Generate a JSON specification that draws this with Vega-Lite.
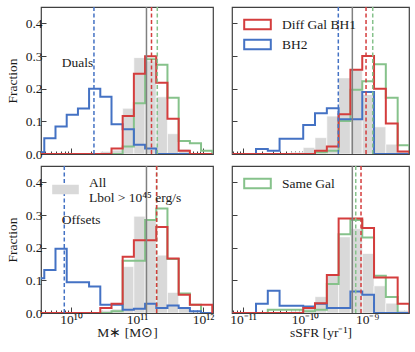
{
  "$schema": "https://vega.github.io/schema/vega-lite/v6.json",
  "padding": {"left": 4, "top": 5, "right": 4, "bottom": 4},
  "background": "white",
  "config": {
    "font": "Liberation Serif",
    "view": {"stroke": "#404040", "strokeWidth": 1.2},
    "axis": {"domain": false, "grid": false, "tickColor": "#404040", "tickWidth": 1, "labelFontSize": 13.5, "titleFontSize": 13.5, "labelColor": "#1a1a1a", "titleColor": "#1a1a1a", "titleFontWeight": "normal", "labelFont": "Liberation Serif", "titleFont": "Liberation Serif", "labelOverlap": false},
    "legend": {"labelFont": "Liberation Serif", "labelFontSize": 13.5, "labelColor": "#1a1a1a"}
  },
  "datasets": {
    "md": [
      {"x": 2.667e9, "x2": 3.936e9, "Diff Gal BH1": 0, "BH2": 0.005, "Same Gal": 0, "All": 0},
      {"x": 3.936e9, "x2": 5.821e9, "Diff Gal BH1": 0, "BH2": 0.048, "Same Gal": 0, "All": 0},
      {"x": 5.821e9, "x2": 8.61e9, "Diff Gal BH1": 0, "BH2": 0.084, "Same Gal": 0, "All": 0},
      {"x": 8.61e9, "x2": 1.274e10, "Diff Gal BH1": 0, "BH2": 0.12, "Same Gal": 0, "All": 0},
      {"x": 1.274e10, "x2": 1.879e10, "Diff Gal BH1": 0, "BH2": 0.139, "Same Gal": 0, "All": 0},
      {"x": 1.879e10, "x2": 2.78e10, "Diff Gal BH1": 0, "BH2": 0.2, "Same Gal": 0, "All": 0},
      {"x": 2.78e10, "x2": 4.111e10, "Diff Gal BH1": 0, "BH2": 0.175, "Same Gal": 0, "All": 0.008},
      {"x": 4.111e10, "x2": 6.067e10, "Diff Gal BH1": 0.017, "BH2": 0.091, "Same Gal": 0, "All": 0.012},
      {"x": 6.067e10, "x2": 8.974e10, "Diff Gal BH1": 0.116, "BH2": 0.076, "Same Gal": 0.023, "All": 0.14},
      {"x": 8.974e10, "x2": 1.327e11, "Diff Gal BH1": 0.246, "BH2": 0.028, "Same Gal": 0.155, "All": 0.295},
      {"x": 1.327e11, "x2": 1.959e11, "Diff Gal BH1": 0.299, "BH2": 0.017, "Same Gal": 0.29, "All": 0.285},
      {"x": 1.959e11, "x2": 2.897e11, "Diff Gal BH1": 0.218, "BH2": 0, "Same Gal": 0.273, "All": 0.175},
      {"x": 2.897e11, "x2": 4.285e11, "Diff Gal BH1": 0.108, "BH2": 0, "Same Gal": 0.172, "All": 0.062},
      {"x": 4.285e11, "x2": 6.339e11, "Diff Gal BH1": 0.01, "BH2": 0, "Same Gal": 0.04, "All": 0.015},
      {"x": 6.339e11, "x2": 9.354e11, "Diff Gal BH1": 0, "BH2": 0, "Same Gal": 0.033, "All": 0},
      {"x": 9.354e11, "x2": 1.384e12, "Diff Gal BH1": 0, "BH2": 0, "Same Gal": 0.01, "All": 0},
      {"x": 1.384e12, "x2": 2.046e12, "Diff Gal BH1": 0, "BH2": 0, "Same Gal": 0, "All": 0}
    ],
    "mo": [
      {"x": 2.667e9, "x2": 3.936e9, "Diff Gal BH1": 0, "BH2": 0.106, "Same Gal": 0, "All": 0},
      {"x": 3.936e9, "x2": 5.821e9, "Diff Gal BH1": 0, "BH2": 0.132, "Same Gal": 0, "All": 0},
      {"x": 5.821e9, "x2": 8.61e9, "Diff Gal BH1": 0, "BH2": 0.197, "Same Gal": 0, "All": 0},
      {"x": 8.61e9, "x2": 1.274e10, "Diff Gal BH1": 0, "BH2": 0.094, "Same Gal": 0, "All": 0},
      {"x": 1.274e10, "x2": 1.879e10, "Diff Gal BH1": 0, "BH2": 0.094, "Same Gal": 0, "All": 0},
      {"x": 1.879e10, "x2": 2.78e10, "Diff Gal BH1": 0, "BH2": 0.081, "Same Gal": 0, "All": 0},
      {"x": 2.78e10, "x2": 4.111e10, "Diff Gal BH1": 0.015, "BH2": 0.025, "Same Gal": 0, "All": 0.008},
      {"x": 4.111e10, "x2": 6.067e10, "Diff Gal BH1": 0.028, "BH2": 0.025, "Same Gal": 0.005, "All": 0.012},
      {"x": 6.067e10, "x2": 8.974e10, "Diff Gal BH1": 0.172, "BH2": 0.01, "Same Gal": 0.16, "All": 0.142},
      {"x": 8.974e10, "x2": 1.327e11, "Diff Gal BH1": 0.223, "BH2": 0.013, "Same Gal": 0.16, "All": 0.296},
      {"x": 1.327e11, "x2": 1.959e11, "Diff Gal BH1": 0.223, "BH2": 0.028, "Same Gal": 0.285, "All": 0.285},
      {"x": 1.959e11, "x2": 2.897e11, "Diff Gal BH1": 0.263, "BH2": 0.015, "Same Gal": 0.32, "All": 0.177},
      {"x": 2.897e11, "x2": 4.285e11, "Diff Gal BH1": 0.167, "BH2": 0.023, "Same Gal": 0.165, "All": 0.063},
      {"x": 4.285e11, "x2": 6.339e11, "Diff Gal BH1": 0.056, "BH2": 0.015, "Same Gal": 0.06, "All": 0.015},
      {"x": 6.339e11, "x2": 9.354e11, "Diff Gal BH1": 0.025, "BH2": 0.005, "Same Gal": 0.025, "All": 0},
      {"x": 9.354e11, "x2": 1.384e12, "Diff Gal BH1": 0.025, "BH2": 0, "Same Gal": 0, "All": 0},
      {"x": 1.384e12, "x2": 2.046e12, "Diff Gal BH1": 0, "BH2": 0, "Same Gal": 0, "All": 0}
    ],
    "sd": [
      {"x": 6.745e-12, "x2": 1.045e-11, "Diff Gal BH1": 0, "BH2": 0, "Same Gal": 0, "All": 0},
      {"x": 1.045e-11, "x2": 1.622e-11, "Diff Gal BH1": 0, "BH2": 0, "Same Gal": 0, "All": 0},
      {"x": 1.622e-11, "x2": 2.512e-11, "Diff Gal BH1": 0, "BH2": 0.015, "Same Gal": 0, "All": 0},
      {"x": 2.512e-11, "x2": 3.89e-11, "Diff Gal BH1": 0, "BH2": 0.01, "Same Gal": 0, "All": 0},
      {"x": 3.89e-11, "x2": 6.039e-11, "Diff Gal BH1": 0, "BH2": 0.047, "Same Gal": 0, "All": 0},
      {"x": 6.039e-11, "x2": 9.354e-11, "Diff Gal BH1": 0, "BH2": 0.047, "Same Gal": 0, "All": 0.005},
      {"x": 9.354e-11, "x2": 1.449e-10, "Diff Gal BH1": 0, "BH2": 0.089, "Same Gal": 0, "All": 0.02},
      {"x": 1.449e-10, "x2": 2.249e-10, "Diff Gal BH1": 0.01, "BH2": 0.125, "Same Gal": 0.005, "All": 0.05},
      {"x": 2.249e-10, "x2": 3.483e-10, "Diff Gal BH1": 0.023, "BH2": 0.14, "Same Gal": 0.01, "All": 0.116},
      {"x": 3.483e-10, "x2": 5.395e-10, "Diff Gal BH1": 0.122, "BH2": 0.106, "Same Gal": 0.101, "All": 0.233},
      {"x": 5.395e-10, "x2": 8.375e-10, "Diff Gal BH1": 0.258, "BH2": 0.106, "Same Gal": 0.197, "All": 0.258},
      {"x": 8.375e-10, "x2": 1.297e-9, "Diff Gal BH1": 0.3, "BH2": 0.19, "Same Gal": 0.223, "All": 0.182},
      {"x": 1.297e-9, "x2": 2.009e-9, "Diff Gal BH1": 0.2, "BH2": 0, "Same Gal": 0.275, "All": 0.083},
      {"x": 2.009e-9, "x2": 3.119e-9, "Diff Gal BH1": 0.093, "BH2": 0, "Same Gal": 0.172, "All": 0.03},
      {"x": 3.119e-9, "x2": 4.831e-9, "Diff Gal BH1": 0.008, "BH2": 0, "Same Gal": 0.027, "All": 0.008},
      {"x": 4.831e-9, "x2": 7.48e-9, "Diff Gal BH1": 0, "BH2": 0, "Same Gal": 0, "All": 0}
    ],
    "so": [
      {"x": 6.745e-12, "x2": 1.045e-11, "Diff Gal BH1": 0, "BH2": 0, "Same Gal": 0, "All": 0},
      {"x": 1.045e-11, "x2": 1.622e-11, "Diff Gal BH1": 0, "BH2": 0, "Same Gal": 0, "All": 0},
      {"x": 1.622e-11, "x2": 2.512e-11, "Diff Gal BH1": 0, "BH2": 0.028, "Same Gal": 0, "All": 0},
      {"x": 2.512e-11, "x2": 3.89e-11, "Diff Gal BH1": 0, "BH2": 0.068, "Same Gal": 0.01, "All": 0},
      {"x": 3.89e-11, "x2": 6.039e-11, "Diff Gal BH1": 0, "BH2": 0.022, "Same Gal": 0.01, "All": 0},
      {"x": 6.039e-11, "x2": 9.354e-11, "Diff Gal BH1": 0, "BH2": 0.022, "Same Gal": 0.01, "All": 0.005},
      {"x": 9.354e-11, "x2": 1.449e-10, "Diff Gal BH1": 0.015, "BH2": 0.02, "Same Gal": 0.005, "All": 0.02},
      {"x": 1.449e-10, "x2": 2.249e-10, "Diff Gal BH1": 0.03, "BH2": 0.028, "Same Gal": 0.01, "All": 0.05},
      {"x": 2.249e-10, "x2": 3.483e-10, "Diff Gal BH1": 0.116, "BH2": 0.015, "Same Gal": 0.089, "All": 0.116},
      {"x": 3.483e-10, "x2": 5.395e-10, "Diff Gal BH1": 0.289, "BH2": 0.015, "Same Gal": 0.241, "All": 0.233},
      {"x": 5.395e-10, "x2": 8.375e-10, "Diff Gal BH1": 0.289, "BH2": 0.066, "Same Gal": 0.285, "All": 0.258},
      {"x": 8.375e-10, "x2": 1.297e-9, "Diff Gal BH1": 0.26, "BH2": 0.056, "Same Gal": 0.231, "All": 0.182},
      {"x": 1.297e-9, "x2": 2.009e-9, "Diff Gal BH1": 0.109, "BH2": 0, "Same Gal": 0.114, "All": 0.083},
      {"x": 2.009e-9, "x2": 3.119e-9, "Diff Gal BH1": 0.109, "BH2": 0, "Same Gal": 0.049, "All": 0.03},
      {"x": 3.119e-9, "x2": 4.831e-9, "Diff Gal BH1": 0.028, "BH2": 0, "Same Gal": 0, "All": 0.008},
      {"x": 4.831e-9, "x2": 7.48e-9, "Diff Gal BH1": 0, "BH2": 0, "Same Gal": 0, "All": 0}
    ],
    "med": [
      {"p": "md", "series": "All", "v": 1.393e11},
      {"p": "md", "series": "BH2", "v": 2.228e10},
      {"p": "md", "series": "Same Gal", "v": 2.032e11},
      {"p": "md", "series": "Diff Gal BH1", "v": 1.66e11},
      {"p": "mo", "series": "All", "v": 1.393e11},
      {"p": "mo", "series": "BH2", "v": 7.91e9},
      {"p": "mo", "series": "Same Gal", "v": 1.986e11},
      {"p": "mo", "series": "Diff Gal BH1", "v": 1.986e11},
      {"p": "sd", "series": "All", "v": 5.795e-10},
      {"p": "sd", "series": "BH2", "v": 3.443e-10},
      {"p": "sd", "series": "Same Gal", "v": 1.236e-9},
      {"p": "sd", "series": "Diff Gal BH1", "v": 9.638e-10},
      {"p": "so", "series": "All", "v": 5.795e-10},
      {"p": "so", "series": "Same Gal", "v": 6.577e-10},
      {"p": "so", "series": "Diff Gal BH1", "v": 7.998e-10}
    ]
  },
  "columns": 2,
  "spacing": {"row": 12, "column": 19},
  "bounds": "flush",
  "resolve": {
    "scale": {"stroke": "independent", "color": "independent", "fill": "independent"},
    "legend": {"stroke": "independent", "color": "independent", "fill": "independent"}
  },
  "concat": [
    {
      "width": 172, "height": 147,
      "data": {"name": "md"},
      "resolve": {"axis": {"x": "independent"}},
      "layer": [
        {
          "mark": {"type": "rect", "fill": "#d9d9d9", "stroke": "white", "strokeWidth": 0.6, "clip": true},
          "encoding": {
            "x": {"field": "x", "type": "quantitative", "scale": {"type": "log", "domain": [3.51e9, 1.42e12], "nice": false}, "axis": {"values": [1e10, 1e11, 1e12], "tickCount": 10, "labels": false, "tickSize": -6, "title": null}},
            "x2": {"field": "x2"},
            "y": {"field": "All", "type": "quantitative", "scale": {"domain": [0, 0.45], "nice": false}, "axis": {"title": "Fraction", "values": [0, 0.1, 0.2, 0.3, 0.4], "tickCount": 10, "format": ".1f", "labelOverlap": false, "tickSize": -5, "labelPadding": 4, "titlePadding": 6}},
            "y2": {"datum": 0}
          }
        },
        {
          "transform": [{"fold": ["Same Gal", "BH2", "Diff Gal BH1"], "as": ["series", "y"]}],
          "mark": {"type": "line", "interpolate": "step-after", "strokeWidth": 2, "clip": true},
          "encoding": {
            "x": {"field": "x", "type": "quantitative", "axis": {"orient": "bottom", "values": [4e9, 5e9, 6e9, 7e9, 8e9, 9e9, 2e10, 3e10, 4e10, 5e10, 6e10, 7e10, 8e10, 9e10, 2e11, 3e11, 4e11, 5e11, 6e11, 7e11, 8e11, 9e11], "tickCount": 40, "labels": false, "tickSize": -3, "title": null}},
            "y": {"field": "y", "type": "quantitative", "axis": {"title": "Fraction", "values": [0, 0.1, 0.2, 0.3, 0.4], "tickCount": 10, "format": ".1f", "labelOverlap": false, "tickSize": -5, "labelPadding": 4, "titlePadding": 6}},
            "stroke": {"field": "series", "type": "nominal", "scale": {"domain": ["Diff Gal BH1", "BH2", "Same Gal"], "range": ["#d43d3d", "#4472c4", "#86c28b"]}, "legend": null}
          }
        },
        {
          "data": {"name": "med"},
          "transform": [{"filter": "datum.p == 'md' && datum.series == 'All'"}],
          "mark": {"type": "rule", "color": "#808080", "strokeWidth": 1.5},
          "encoding": {"x": {"field": "v", "type": "quantitative", "axis": null}}
        },
        {
          "data": {"name": "med"},
          "transform": [{"filter": "datum.p == 'md' && datum.series != 'All'"}],
          "mark": {"type": "rule", "strokeWidth": 1.5, "strokeDash": [4, 2.5]},
          "encoding": {
            "x": {"field": "v", "type": "quantitative", "axis": null},
            "color": {"field": "series", "type": "nominal", "scale": {"domain": ["Diff Gal BH1", "BH2", "Same Gal"], "range": ["#d43d3d", "#4472c4", "#86c28b"]}, "legend": null}
          }
        },
        {
          "data": {"values": [{"label": "Duals"}]},
          "mark": {"type": "text", "fontSize": 13.5, "font": "Liberation Serif", "color": "#1a1a1a"},
          "encoding": {
            "x": {"datum": 1.25e10, "type": "quantitative", "axis": null},
            "y": {"datum": 0.28, "type": "quantitative", "axis": {"title": "Fraction", "values": [0, 0.1, 0.2, 0.3, 0.4], "tickCount": 10, "format": ".1f", "labelOverlap": false, "tickSize": -5, "labelPadding": 4, "titlePadding": 6}},
            "text": {"field": "label"}
          }
        }
      ]
    },
    {
      "width": 177, "height": 147,
      "data": {"name": "sd"},
      "resolve": {"axis": {"x": "independent"}},
      "layer": [
        {
          "mark": {"type": "rect", "fill": "#d9d9d9", "stroke": "white", "strokeWidth": 0.6, "clip": true},
          "encoding": {
            "x": {"field": "x", "type": "quantitative", "scale": {"type": "log", "domain": [6.65e-12, 4.75e-9], "nice": false}, "axis": {"values": [1e-11, 1e-10, 1e-9], "tickCount": 10, "labels": false, "tickSize": -6, "title": null}},
            "x2": {"field": "x2"},
            "y": {"field": "All", "type": "quantitative", "scale": {"domain": [0, 0.45], "nice": false}, "axis": {"title": null, "labels": false, "values": [0, 0.1, 0.2, 0.3, 0.4], "tickCount": 10, "tickSize": -5}},
            "y2": {"datum": 0}
          }
        },
        {
          "transform": [{"fold": ["Same Gal", "BH2", "Diff Gal BH1"], "as": ["series", "y"]}],
          "mark": {"type": "line", "interpolate": "step-after", "strokeWidth": 2, "clip": true},
          "encoding": {
            "x": {"field": "x", "type": "quantitative", "axis": {"orient": "bottom", "values": [7e-12, 8e-12, 9e-12, 2e-11, 3e-11, 4e-11, 5e-11, 6e-11, 7e-11, 8e-11, 9e-11, 2e-10, 3e-10, 4e-10, 5e-10, 6e-10, 7e-10, 8e-10, 9e-10, 2e-9, 3e-9, 4e-9], "tickCount": 40, "labels": false, "tickSize": -3, "title": null}},
            "y": {"field": "y", "type": "quantitative", "axis": {"title": null, "labels": false, "values": [0, 0.1, 0.2, 0.3, 0.4], "tickCount": 10, "tickSize": -5}},
            "stroke": {"field": "series", "type": "nominal", "scale": {"domain": ["Diff Gal BH1", "BH2", "Same Gal"], "range": ["#d43d3d", "#4472c4", "#86c28b"]},
              "legend": {"values": ["Diff Gal BH1", "BH2"], "orient": "none", "legendX": 15, "legendY": 7, "title": null, "symbolType": "M-1.4,-0.5H1.4V0.5H-1.4Z", "symbolSize": 361, "symbolStrokeWidth": 2, "symbolFillColor": "transparent", "labelOffset": 14, "rowPadding": 0, "padding": 0}}
          }
        },
        {
          "data": {"name": "med"},
          "transform": [{"filter": "datum.p == 'sd' && datum.series == 'All'"}],
          "mark": {"type": "rule", "color": "#808080", "strokeWidth": 1.5},
          "encoding": {"x": {"field": "v", "type": "quantitative", "axis": null}}
        },
        {
          "data": {"name": "med"},
          "transform": [{"filter": "datum.p == 'sd' && datum.series != 'All'"}],
          "mark": {"type": "rule", "strokeWidth": 1.5, "strokeDash": [4, 2.5]},
          "encoding": {
            "x": {"field": "v", "type": "quantitative", "axis": null},
            "color": {"field": "series", "type": "nominal", "scale": {"domain": ["Diff Gal BH1", "BH2", "Same Gal"], "range": ["#d43d3d", "#4472c4", "#86c28b"]}, "legend": null}
          }
        }
      ]
    },
    {
      "width": 172, "height": 147,
      "data": {"name": "mo"},
      "resolve": {"axis": {"x": "independent"}},
      "layer": [
        {
          "mark": {"type": "rect", "stroke": "white", "strokeWidth": 0.6, "clip": true},
          "encoding": {
            "x": {"field": "x", "type": "quantitative", "scale": {"type": "log", "domain": [3.51e9, 1.42e12], "nice": false}, "axis": {"values": [1e10, 1e11, 1e12], "tickCount": 10, "labelExpr": "datum.value < 5e10 ? '10¹⁰' : datum.value < 5e11 ? '10¹¹' : '10¹²'", "tickSize": -6, "labelPadding": 5, "title": "M∗ [M⊙]", "titlePadding": 0}},
            "x2": {"field": "x2"},
            "y": {"field": "All", "type": "quantitative", "scale": {"domain": [0, 0.45], "nice": false}, "axis": {"title": "Fraction", "values": [0, 0.1, 0.2, 0.3, 0.4], "tickCount": 10, "format": ".1f", "labelOverlap": false, "tickSize": -5, "labelPadding": 4, "titlePadding": 6}},
            "y2": {"datum": 0},
            "fill": {"datum": "All", "type": "nominal", "scale": {"domain": ["All"], "range": ["#d9d9d9"]},
              "legend": {"orient": "none", "legendX": 15, "legendY": 14, "title": null, "symbolType": "M-1.4,-0.5H1.4V0.5H-1.4Z", "symbolSize": 361, "symbolStrokeWidth": 0, "labelOffset": 14, "labelBaseline": "bottom", "padding": 0, "labelExpr": "['All', 'Lbol > 10⁴⁵ erg/s']"}}
          }
        },
        {
          "transform": [{"fold": ["Same Gal", "BH2", "Diff Gal BH1"], "as": ["series", "y"]}],
          "mark": {"type": "line", "interpolate": "step-after", "strokeWidth": 2, "clip": true},
          "encoding": {
            "x": {"field": "x", "type": "quantitative", "axis": {"orient": "bottom", "values": [4e9, 5e9, 6e9, 7e9, 8e9, 9e9, 2e10, 3e10, 4e10, 5e10, 6e10, 7e10, 8e10, 9e10, 2e11, 3e11, 4e11, 5e11, 6e11, 7e11, 8e11, 9e11], "tickCount": 40, "labels": false, "tickSize": -3, "title": null}},
            "y": {"field": "y", "type": "quantitative", "axis": {"title": "Fraction", "values": [0, 0.1, 0.2, 0.3, 0.4], "tickCount": 10, "format": ".1f", "labelOverlap": false, "tickSize": -5, "labelPadding": 4, "titlePadding": 6}},
            "stroke": {"field": "series", "type": "nominal", "scale": {"domain": ["Diff Gal BH1", "BH2", "Same Gal"], "range": ["#d43d3d", "#4472c4", "#86c28b"]}, "legend": null}
          }
        },
        {
          "data": {"name": "med"},
          "transform": [{"filter": "datum.p == 'mo' && datum.series == 'All'"}],
          "mark": {"type": "rule", "color": "#808080", "strokeWidth": 1.5},
          "encoding": {"x": {"field": "v", "type": "quantitative", "axis": null}}
        },
        {
          "data": {"name": "med"},
          "transform": [{"filter": "datum.p == 'mo' && datum.series != 'All'"}],
          "mark": {"type": "rule", "strokeWidth": 1.5, "strokeDash": [4, 2.5]},
          "encoding": {
            "x": {"field": "v", "type": "quantitative", "axis": null},
            "color": {"field": "series", "type": "nominal", "scale": {"domain": ["Diff Gal BH1", "BH2", "Same Gal"], "range": ["#d43d3d", "#4472c4", "#86c28b"]}, "legend": null}
          }
        },
        {
          "data": {"values": [{"label": "Offsets"}]},
          "mark": {"type": "text", "fontSize": 13.5, "font": "Liberation Serif", "color": "#1a1a1a"},
          "encoding": {
            "x": {"datum": 1.42e10, "type": "quantitative", "axis": null},
            "y": {"datum": 0.284, "type": "quantitative", "axis": {"title": "Fraction", "values": [0, 0.1, 0.2, 0.3, 0.4], "tickCount": 10, "format": ".1f", "labelOverlap": false, "tickSize": -5, "labelPadding": 4, "titlePadding": 6}},
            "text": {"field": "label"}
          }
        }
      ]
    },
    {
      "width": 177, "height": 147,
      "data": {"name": "so"},
      "resolve": {"axis": {"x": "independent"}},
      "layer": [
        {
          "mark": {"type": "rect", "fill": "#d9d9d9", "stroke": "white", "strokeWidth": 0.6, "clip": true},
          "encoding": {
            "x": {"field": "x", "type": "quantitative", "scale": {"type": "log", "domain": [6.65e-12, 4.75e-9], "nice": false}, "axis": {"values": [1e-11, 1e-10, 1e-9], "tickCount": 10, "labelExpr": "datum.value < 5e-11 ? '10⁻¹¹' : datum.value < 5e-10 ? '10⁻¹⁰' : '10⁻⁹'", "tickSize": -6, "labelPadding": 5, "title": "sSFR [yr⁻¹]", "titlePadding": 0}},
            "x2": {"field": "x2"},
            "y": {"field": "All", "type": "quantitative", "scale": {"domain": [0, 0.45], "nice": false}, "axis": {"title": null, "labels": false, "values": [0, 0.1, 0.2, 0.3, 0.4], "tickCount": 10, "tickSize": -5}},
            "y2": {"datum": 0}
          }
        },
        {
          "transform": [{"fold": ["Same Gal", "BH2", "Diff Gal BH1"], "as": ["series", "y"]}],
          "mark": {"type": "line", "interpolate": "step-after", "strokeWidth": 2, "clip": true},
          "encoding": {
            "x": {"field": "x", "type": "quantitative", "axis": {"orient": "bottom", "values": [7e-12, 8e-12, 9e-12, 2e-11, 3e-11, 4e-11, 5e-11, 6e-11, 7e-11, 8e-11, 9e-11, 2e-10, 3e-10, 4e-10, 5e-10, 6e-10, 7e-10, 8e-10, 9e-10, 2e-9, 3e-9, 4e-9], "tickCount": 40, "labels": false, "tickSize": -3, "title": null}},
            "y": {"field": "y", "type": "quantitative", "axis": {"title": null, "labels": false, "values": [0, 0.1, 0.2, 0.3, 0.4], "tickCount": 10, "tickSize": -5}},
            "stroke": {"field": "series", "type": "nominal", "scale": {"domain": ["Diff Gal BH1", "BH2", "Same Gal"], "range": ["#d43d3d", "#4472c4", "#86c28b"]},
              "legend": {"values": ["Same Gal"], "orient": "none", "legendX": 15, "legendY": 7, "title": null, "symbolType": "M-1.4,-0.5H1.4V0.5H-1.4Z", "symbolSize": 361, "symbolStrokeWidth": 2, "symbolFillColor": "transparent", "labelOffset": 14, "rowPadding": 0, "padding": 0}}
          }
        },
        {
          "data": {"name": "med"},
          "transform": [{"filter": "datum.p == 'so' && datum.series == 'All'"}],
          "mark": {"type": "rule", "color": "#808080", "strokeWidth": 1.5},
          "encoding": {"x": {"field": "v", "type": "quantitative", "axis": null}}
        },
        {
          "data": {"name": "med"},
          "transform": [{"filter": "datum.p == 'so' && datum.series != 'All'"}],
          "mark": {"type": "rule", "strokeWidth": 1.5, "strokeDash": [4, 2.5]},
          "encoding": {
            "x": {"field": "v", "type": "quantitative", "axis": null},
            "color": {"field": "series", "type": "nominal", "scale": {"domain": ["Diff Gal BH1", "BH2", "Same Gal"], "range": ["#d43d3d", "#4472c4", "#86c28b"]}, "legend": null}
          }
        }
      ]
    }
  ]
}
